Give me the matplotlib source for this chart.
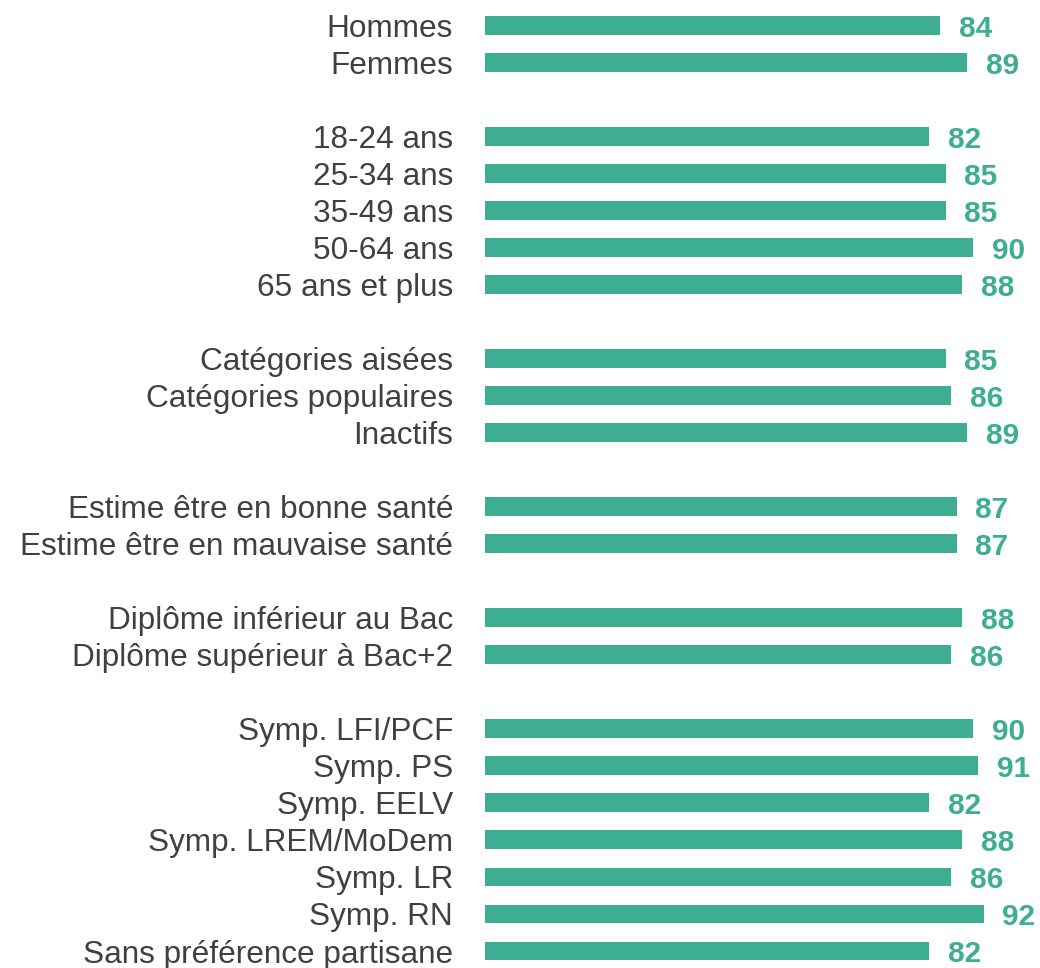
import matplotlib
matplotlib.use("Agg")
import matplotlib.pyplot as plt

categories = [
    "Hommes", "Femmes", None,
    "18-24 ans", "25-34 ans", "35-49 ans", "50-64 ans", "65 ans et plus", None,
    "Catégories aisées", "Catégories populaires", "Inactifs", None,
    "Estime être en bonne santé", "Estime être en mauvaise santé", None,
    "Diplôme inférieur au Bac", "Diplôme supérieur à Bac+2", None,
    "Symp. LFI/PCF", "Symp. PS", "Symp. EELV", "Symp. LREM/MoDem",
    "Symp. LR", "Symp. RN", "Sans préférence partisane",
]
values = [
    84, 89, None,
    82, 85, 85, 90, 88, None,
    85, 86, 89, None,
    87, 87, None,
    88, 86, None,
    90, 91, 82, 88, 86, 92, 82,
]

bar_color = "#3EAE93"
label_color = "#404040"

plt.rcParams['font.family'] = ['Liberation Sans', 'DejaVu Sans']

fig = plt.figure(figsize=(10.4, 9.68), dpi=100)
W, H = 1040, 968
left_px = 485
px_per_unit = 5.42
xmax = 100
ax = fig.add_axes([left_px / W, 0, xmax * px_per_unit / W, 1])

row_px = 37.02
y0_px = 25.5
top = -y0_px / row_px
bottom = (H - y0_px) / row_px

pos = [i for i, c in enumerate(categories) if c is not None]
labs = [categories[i] for i in pos]
vals = [values[i] for i in pos]

ax.barh(pos, vals, height=0.51, color=bar_color)
for p, v in zip(pos, vals):
    ax.annotate(str(v), xy=(v, p), xytext=(13.5, -2.5), textcoords="offset points",
                ha="left", va="center", fontsize=21.5, fontweight="bold",
                color=bar_color)

ax.set_xlim(0, xmax)
ax.set_ylim(bottom, top)
ax.set_yticks(pos)
ax.set_yticklabels(labs, fontsize=22.7, color=label_color)
ax.tick_params(axis="y", length=0, pad=23)
ax.set_xticks([])
for s in ax.spines.values():
    s.set_visible(False)

fig.savefig("out.png", dpi=100)
